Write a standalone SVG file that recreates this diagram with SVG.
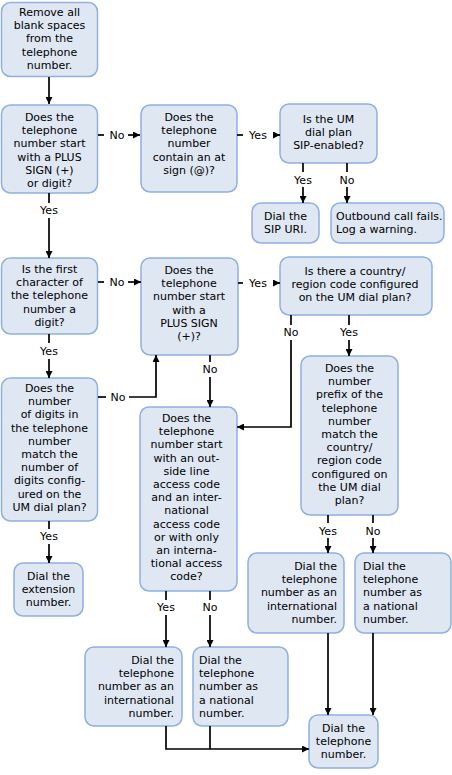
<svg xmlns="http://www.w3.org/2000/svg" width="452" height="775" viewBox="0 0 452 775">
<defs>
<style>
.box{fill:#dfe7f3;stroke:#8fb0e0;stroke-width:1.5}
text{font-family:"DejaVu Sans","Verdana",sans-serif;font-size:11px;fill:#000}
.c{text-anchor:middle}
.r{text-anchor:end}
.ln{fill:none;stroke:#000;stroke-width:1.7}
.ar{marker-end:url(#ah)}
</style>
<marker id="ah" viewBox="0 0 8 8" markerWidth="7" markerHeight="7" refX="8" refY="4" orient="auto" markerUnits="userSpaceOnUse">
<path d="M0,0 L8,4 L0,8 z" fill="#000"/>
</marker>
</defs>
<rect width="452" height="775" fill="#fff"/>

<g id="n1"><rect class="box" x="1.5" y="2.5" width="96" height="74" rx="9"/>
<text class="c" y="16"><tspan x="49.5">Remove all</tspan><tspan x="49.5" dy="13.2">blank spaces</tspan><tspan x="49.5" dy="13.2">from the</tspan><tspan x="49.5" dy="13.2">telephone</tspan><tspan x="49.5" dy="13.2">number.</tspan></text></g>

<g id="n2"><rect class="box" x="1.5" y="105" width="96" height="88" rx="9"/>
<text class="c" y="121"><tspan x="49.5">Does the</tspan><tspan x="49.5" dy="13.2">telephone</tspan><tspan x="49.5" dy="13.2">number start</tspan><tspan x="49.5" dy="13.2">with a PLUS</tspan><tspan x="49.5" dy="13.2">SIGN (+)</tspan><tspan x="49.5" dy="13.2">or digit?</tspan></text></g>

<g id="n3"><rect class="box" x="141" y="105" width="96" height="87" rx="9"/>
<text class="c" y="121"><tspan x="189">Does the</tspan><tspan x="189" dy="13.2">telephone</tspan><tspan x="189" dy="13.2">number</tspan><tspan x="189" dy="13.2">contain an at</tspan><tspan x="189" dy="13.2">sign (@)?</tspan></text></g>

<g id="n4"><rect class="box" x="280" y="104" width="97" height="59" rx="9"/>
<text class="c" y="123"><tspan x="328.5">Is the UM</tspan><tspan x="328.5" dy="13.2">dial plan</tspan><tspan x="328.5" dy="13.2">SIP-enabled?</tspan></text></g>

<g id="n5"><rect class="box" x="252" y="203" width="67" height="40" rx="9"/>
<text class="c" y="220"><tspan x="285.5">Dial the</tspan><tspan x="285.5" dy="13.2">SIP URI.</tspan></text></g>

<g id="n6"><rect class="box" x="331" y="203" width="113" height="40" rx="9"/>
<text y="220"><tspan x="336">Outbound call fails.</tspan><tspan x="336" dy="13.2">Log a warning.</tspan></text></g>

<g id="n7"><rect class="box" x="1.5" y="258" width="96" height="76" rx="9"/>
<text class="c" y="273"><tspan x="49.5">Is the first</tspan><tspan x="49.5" dy="13.2">character of</tspan><tspan x="49.5" dy="13.2">the telephone</tspan><tspan x="49.5" dy="13.2">number a</tspan><tspan x="49.5" dy="13.2">digit?</tspan></text></g>

<g id="n8"><rect class="box" x="141" y="258" width="97" height="97" rx="9"/>
<text class="c" y="274"><tspan x="189">Does the</tspan><tspan x="189" dy="13.2">telephone</tspan><tspan x="189" dy="13.2">number start</tspan><tspan x="189" dy="13.2">with a</tspan><tspan x="189" dy="13.2">PLUS SIGN</tspan><tspan x="189" dy="13.2">(+)?</tspan></text></g>

<g id="n9"><rect class="box" x="280" y="257" width="152" height="58" rx="9"/>
<text class="c" y="275"><tspan x="355">Is there a country/</tspan><tspan x="355" dy="13.2">region code configured</tspan><tspan x="355" dy="13.2">on the UM dial plan?</tspan></text></g>

<g id="n10"><rect class="box" x="1.5" y="378" width="96" height="143" rx="9"/>
<text class="c" y="392"><tspan x="49.5">Does the</tspan><tspan x="49.5" dy="13.2">number</tspan><tspan x="49.5" dy="13.2">of digits in</tspan><tspan x="49.5" dy="13.2">the telephone</tspan><tspan x="49.5" dy="13.2">number</tspan><tspan x="49.5" dy="13.2">match the</tspan><tspan x="49.5" dy="13.2">number of</tspan><tspan x="49.5" dy="13.2">digits config-</tspan><tspan x="49.5" dy="13.2">ured on the</tspan><tspan x="49.5" dy="13.2">UM dial plan?</tspan></text></g>

<g id="n11"><rect class="box" x="140" y="407" width="97" height="184" rx="9"/>
<text class="c" y="422"><tspan x="186.5">Does the</tspan><tspan x="186.5" dy="13.2">telephone</tspan><tspan x="186.5" dy="13.2">number start</tspan><tspan x="186.5" dy="13.2">with an out-</tspan><tspan x="186.5" dy="13.2">side line</tspan><tspan x="186.5" dy="13.2">access code</tspan><tspan x="186.5" dy="13.2">and an inter-</tspan><tspan x="186.5" dy="13.2">national</tspan><tspan x="186.5" dy="13.2">access code</tspan><tspan x="186.5" dy="13.2">or with only</tspan><tspan x="186.5" dy="13.2">an interna-</tspan><tspan x="186.5" dy="13.2">tional access</tspan><tspan x="186.5" dy="13.2">code?</tspan></text></g>

<g id="n12"><rect class="box" x="301" y="356" width="97" height="159" rx="9"/>
<text class="c" y="372"><tspan x="349.5">Does the</tspan><tspan x="349.5" dy="13.2">number</tspan><tspan x="349.5" dy="13.2">prefix of the</tspan><tspan x="349.5" dy="13.2">telephone</tspan><tspan x="349.5" dy="13.2">number</tspan><tspan x="349.5" dy="13.2">match the</tspan><tspan x="349.5" dy="13.2">country/</tspan><tspan x="349.5" dy="13.2">region code</tspan><tspan x="349.5" dy="13.2">configured on</tspan><tspan x="349.5" dy="13.2">the UM dial</tspan><tspan x="349.5" dy="13.2">plan?</tspan></text></g>

<g id="n13"><rect class="box" x="14" y="563" width="69" height="53" rx="9"/>
<text class="c" y="580"><tspan x="48.5">Dial the</tspan><tspan x="48.5" dy="13.2">extension</tspan><tspan x="48.5" dy="13.2">number.</tspan></text></g>

<g id="n14"><rect class="box" x="248" y="553" width="96" height="80" rx="9"/>
<text class="r" y="570"><tspan x="337">Dial the</tspan><tspan x="337" dy="13.2">telephone</tspan><tspan x="337" dy="13.2">number as an</tspan><tspan x="337" dy="13.2">international</tspan><tspan x="337" dy="13.2">number.</tspan></text></g>

<g id="n15"><rect class="box" x="355" y="553" width="96" height="80" rx="9"/>
<text y="570"><tspan x="363">Dial the</tspan><tspan x="363" dy="13.2">telephone</tspan><tspan x="363" dy="13.2">number as</tspan><tspan x="363" dy="13.2">a national</tspan><tspan x="363" dy="13.2">number.</tspan></text></g>

<g id="n16"><rect class="box" x="85" y="647" width="97" height="79" rx="9"/>
<text class="r" y="664"><tspan x="174">Dial the</tspan><tspan x="174" dy="13.2">telephone</tspan><tspan x="174" dy="13.2">number as an</tspan><tspan x="174" dy="13.2">international</tspan><tspan x="174" dy="13.2">number.</tspan></text></g>

<g id="n17"><rect class="box" x="193" y="647" width="95" height="79" rx="9"/>
<text y="664"><tspan x="199">Dial the</tspan><tspan x="199" dy="13.2">telephone</tspan><tspan x="199" dy="13.2">number as</tspan><tspan x="199" dy="13.2">a national</tspan><tspan x="199" dy="13.2">number.</tspan></text></g>

<g id="n18"><rect class="box" x="309" y="715" width="69" height="53" rx="9"/>
<text class="c" y="732"><tspan x="343.5">Dial the</tspan><tspan x="343.5" dy="13.2">telephone</tspan><tspan x="343.5" dy="13.2">number.</tspan></text></g>

<g id="connectors">
<path class="ln ar" d="M49 77 V104"/>
<path class="ln" d="M98 135 H104"/><text class="c" x="117" y="139">No</text><path class="ln ar" d="M128 135 H140"/>
<path class="ln" d="M237 135 H243"/><text class="c" x="258" y="139">Yes</text><path class="ln ar" d="M273 135 H280"/>
<path class="ln" d="M303 163 V172"/><text class="c" x="303" y="184">Yes</text><path class="ln ar" d="M303 187 V203"/>
<path class="ln" d="M347 163 V172"/><text class="c" x="347" y="184">No</text><path class="ln ar" d="M347 187 V203"/>
<path class="ln" d="M49 193 V203"/><text class="c" x="49" y="214">Yes</text><path class="ln ar" d="M49 218 V258"/>
<path class="ln" d="M98 282 H104"/><text class="c" x="117" y="286">No</text><path class="ln ar" d="M128 282 H141"/>
<path class="ln" d="M238 283 H243"/><text class="c" x="258" y="287">Yes</text><path class="ln ar" d="M273 283 H280"/>
<path class="ln" d="M291 315 V325"/><text class="c" x="291" y="336">No</text><path class="ln ar" d="M291 340 V427 H237"/>
<path class="ln" d="M349 315 V325"/><text class="c" x="349" y="336">Yes</text><path class="ln ar" d="M349 340 V356"/>
<path class="ln" d="M49 334 V343"/><text class="c" x="49" y="355">Yes</text><path class="ln ar" d="M49 359 V378"/>
<path class="ln" d="M98 397 H106"/><text class="c" x="118" y="401">No</text><path class="ln ar" d="M129 397 H156 V355"/>
<path class="ln" d="M210 355 V362"/><text class="c" x="210" y="373">No</text><path class="ln ar" d="M210 377 V407"/>
<path class="ln" d="M49 521 V529"/><text class="c" x="49" y="540">Yes</text><path class="ln ar" d="M49 544 V563"/>
<path class="ln" d="M166 591 V600"/><text class="c" x="166" y="611">Yes</text><path class="ln ar" d="M166 615 V647"/>
<path class="ln" d="M210 591 V600"/><text class="c" x="210" y="611">No</text><path class="ln ar" d="M210 615 V647"/>
<path class="ln" d="M328 515 V523"/><text class="c" x="328" y="535">Yes</text><path class="ln ar" d="M328 538 V553"/>
<path class="ln" d="M373 515 V523"/><text class="c" x="373" y="535">No</text><path class="ln ar" d="M373 538 V553"/>
<path class="ln ar" d="M328 633 V715"/>
<path class="ln ar" d="M373 633 V715"/>
<path class="ln ar" d="M166 726 V749 H309"/>
<path class="ln" d="M210 726 V749"/>
</g>
</svg>
